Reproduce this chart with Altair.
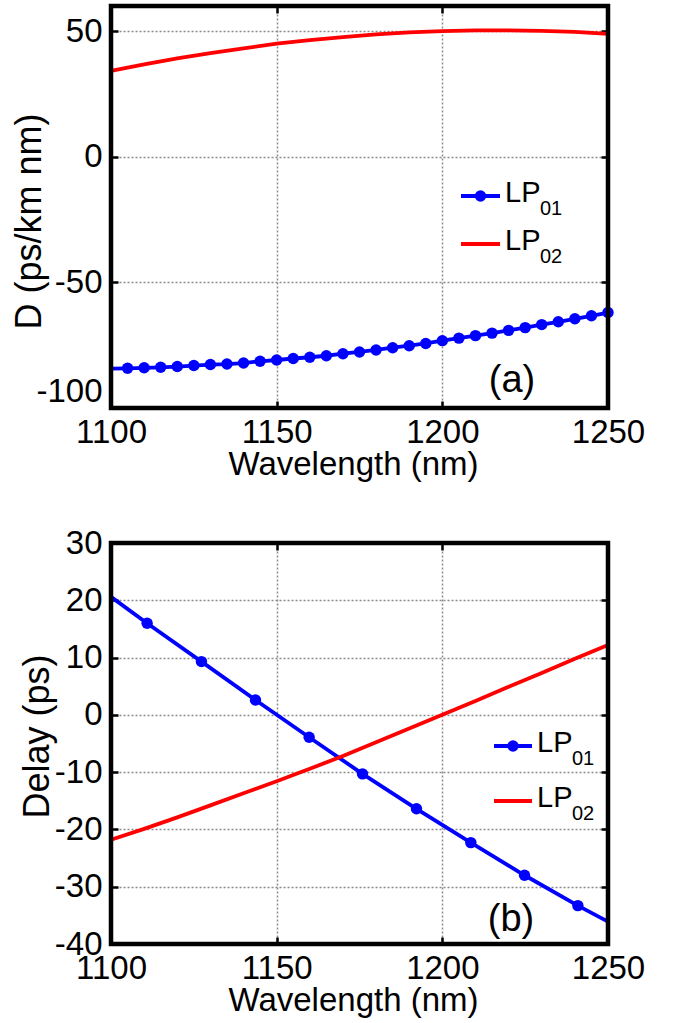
import altair as alt
import pandas as pd

FONT = "Liberation Sans"

# ---------------- Panel (a): dispersion ----------------
wl_a01 = list(range(1100, 1251, 5))
D_a01 = [-84.3, -84.2, -84.0, -83.8, -83.5, -83.1, -82.7, -82.5, -82.1, -81.4,
         -80.9, -80.3, -79.8, -79.2, -78.4, -77.7, -76.9, -76.0, -75.2, -74.3,
         -73.2, -72.2, -71.2, -70.2, -69.1, -68.0, -66.8, -65.7, -64.5, -63.3,
         -62.0]
wl_a02 = list(range(1100, 1251, 10))
D_a02 = [34.2, 36.8, 39.2, 41.2, 43.1, 45.0, 46.4, 47.6, 48.7, 49.5,
         50.0, 50.3, 50.3, 50.1, 49.7, 48.9]

# ---------------- Panel (b): delay ----------------
wl_b01 = [1100, 1110.9, 1127.3, 1143.6, 1159.8, 1175.9, 1192.2, 1208.6, 1224.8, 1240.9, 1250]
T_b01 = [20.6, 16.0, 9.3, 2.6, -3.9, -10.3, -16.4, -22.3, -28.0, -33.3, -36.1]
wl_b02 = list(range(1100, 1251, 10))
T_b02 = [-21.8, -19.9, -17.9, -15.8, -13.7, -11.6, -9.4, -7.2, -4.8, -2.4,
         0.0, 2.4, 4.9, 7.3, 9.8, 12.2]

x_ticks = [1100, 1150, 1200, 1250]
ya_ticks = [-100, -50, 0, 50]
yb_ticks = [-40, -30, -20, -10, 0, 10, 20, 30]

legend_base = ["LP", "LP"]
legend_sub = ["01", "02"]
series_colors = ["#0000FF", "#FF0000"]
panel_tags = ["(a)", "(b)"]

W = 497
TICK = 7
LW = 3.8


def make_panel(wl01, v01, wl02, v02, marker_from, marker_to, ydom, yticks, ytitle,
               height, ytitle_x, ytitle_y, flush, leg, tag_pos, tag):
    xs = alt.Scale(domain=[1100, 1250], nice=False, zero=False)
    ys = alt.Scale(domain=ydom, nice=False, zero=False)

    main_x = alt.Axis(orient="bottom", values=x_ticks, labelExpr="'' + datum.value",
                      offset=-TICK, tickSize=TICK, tickWidth=2.5, tickColor="black", domain=False,
                      grid=True, gridColor="#8a8a8a", gridDash=[2, 2], gridWidth=1.5,
                      labelFont=FONT, labelFontSize=33, labelColor="black", labelPadding=8,
                      labelFlush=False, labelOverlap=False,
                      title="Wavelength (nm)", titleFont=FONT, titleFontSize=33,
                      titleFontWeight="normal", titleColor="black", titleX=242, titleY=73,
                      titleAlign="center", titleBaseline="alphabetic")
    main_y = alt.Axis(orient="left", values=yticks, labelExpr="'' + datum.value",
                      offset=-TICK, tickSize=TICK, tickWidth=2.5, tickColor="black", domain=False,
                      grid=True, gridColor="#8a8a8a", gridDash=[2, 2], gridWidth=1.5,
                      labelFont=FONT, labelFontSize=33, labelColor="black", labelPadding=9,
                      labelFlush=flush, labelOverlap=False,
                      title=ytitle, titleFont=FONT, titleFontSize=36, titleFontWeight="normal",
                      titleColor="black", titleAngle=270, titleX=ytitle_x, titleY=ytitle_y,
                      titleAlign="center", titleBaseline="middle")
    top_x = alt.Axis(orient="top", values=x_ticks, offset=-TICK, tickSize=TICK, tickWidth=2.5,
                     tickColor="black", domain=False, grid=False, labels=False, title=None)
    right_y = alt.Axis(orient="right", values=yticks, offset=-TICK, tickSize=TICK, tickWidth=2.5,
                       tickColor="black", domain=False, grid=False, labels=False, title=None)

    df01 = pd.DataFrame({"wl": wl01, "v": v01})
    df02 = pd.DataFrame({"wl": wl02, "v": v02})
    dfm = df01.iloc[marker_from:marker_to]

    blue_line = alt.Chart(df01).mark_line(color=series_colors[0], strokeWidth=LW).encode(
        x=alt.X("wl:Q", scale=xs, axis=main_x), y=alt.Y("v:Q", scale=ys, axis=main_y))
    blue_pts = alt.Chart(dfm).mark_point(filled=True, size=130, opacity=1,
                                         color=series_colors[0]).encode(
        x=alt.X("wl:Q", scale=xs, axis=None), y=alt.Y("v:Q", scale=ys, axis=None))
    red_line = alt.Chart(df02).mark_line(color=series_colors[1], strokeWidth=LW).encode(
        x=alt.X("wl:Q", scale=xs, axis=top_x), y=alt.Y("v:Q", scale=ys, axis=right_y))

    layers = [blue_line, blue_pts, red_line]

    # legend (drawn inside the axes like the original)
    lx0, lx1, rows = leg
    for i, ly in enumerate(rows):
        one = pd.DataFrame({"base": [legend_base[i]], "sub": [legend_sub[i]]})
        layers.append(alt.Chart(one).mark_rule(color=series_colors[i], strokeWidth=LW).encode(
            x=alt.value(lx0), x2=alt.value(lx1), y=alt.value(ly)))
        if i == 0:
            layers.append(alt.Chart(one).mark_point(filled=True, size=130, opacity=1,
                                                    color=series_colors[i]).encode(
                x=alt.value((lx0 + lx1) / 2), y=alt.value(ly)))
        layers.append(alt.Chart(one).mark_text(align="left", baseline="alphabetic", font=FONT,
                                               fontSize=29, color="black").encode(
            x=alt.value(lx1 + 5), y=alt.value(ly + 6), text="base:N"))
        layers.append(alt.Chart(one).mark_text(align="left", baseline="alphabetic", font=FONT,
                                               fontSize=20, color="black").encode(
            x=alt.value(lx1 + 40), y=alt.value(ly + 19), text="sub:N"))

    tag_df = pd.DataFrame({"tag": [tag]})
    layers.append(alt.Chart(tag_df).mark_text(align="center", baseline="middle", font=FONT,
                                              fontSize=38, color="black").encode(
        x=alt.value(tag_pos[0]), y=alt.value(tag_pos[1]), text="tag:N"))

    # heavy black box around the axes
    layers.append(alt.Chart(tag_df).mark_rect(fill="white", fillOpacity=0, stroke="black",
                                              strokeWidth=4.5, strokeOpacity=1).encode(
        x=alt.value(0), x2=alt.value(W), y=alt.value(0), y2=alt.value(height)))

    return alt.layer(*layers).resolve_axis(x="independent", y="independent").properties(
        width=W, height=height)


top = make_panel(wl_a01, D_a01, wl_a02, D_a02, 1, len(wl_a01), [-100, 60], ya_ticks,
                 "D (ps/km nm)", 402, -89, 215, True,
                 (350, 389, [190, 238]), (401, 375), panel_tags[0])
bottom = make_panel(wl_b01, T_b01, wl_b02, T_b02, 1, len(wl_b01) - 1, [-40, 30], yb_ticks,
                    "Delay (ps)", 401, -81, 193, False,
                    (383, 421, [203, 258]), (400, 377), panel_tags[1])

chart = alt.vconcat(top, bottom, spacing=46).properties(
    padding={"left": 11, "top": 3, "right": 5, "bottom": 5},
    background="white",
).configure_view(strokeWidth=0)

chart.save("out.html", embed_options={"renderer": "svg", "actions": False})
